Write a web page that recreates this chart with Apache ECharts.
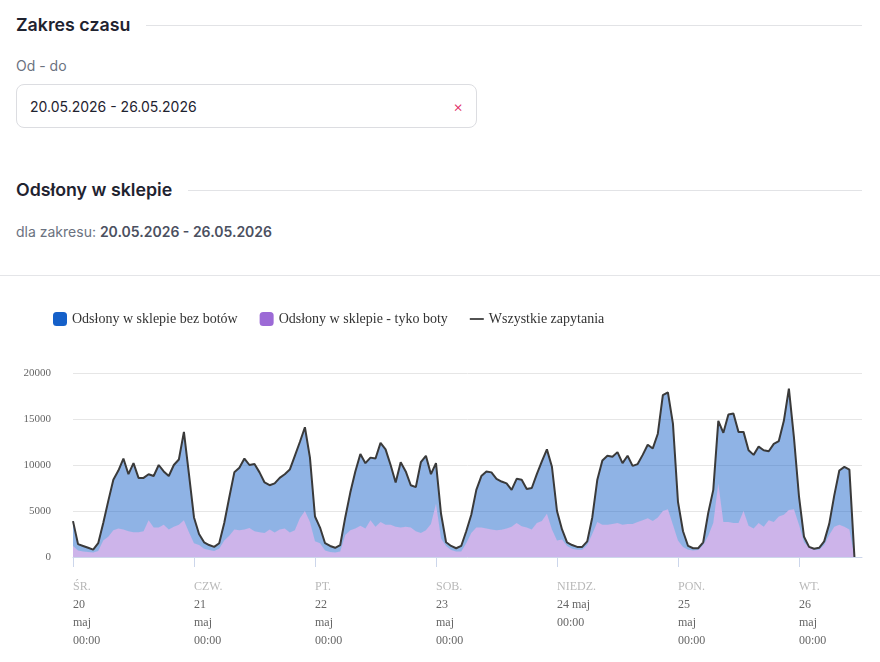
<!DOCTYPE html>
<html lang="pl">
<head>
<meta charset="utf-8">
<title>Odsłony w sklepie</title>
<script src="https://cdn.jsdelivr.net/npm/echarts@6/dist/echarts.min.js"></script>
<style>
  html, body { margin: 0; padding: 0; background: #fff; }
  body { width: 880px; height: 662px; position: relative; overflow: hidden; font-family: Inter, "Noto Sans", sans-serif; color: #1f2330; }
  .section-title { position: absolute; left: 16px; right: 18px; display: flex; align-items: center; font-size: 17.8px; font-weight: 600; line-height: 24px; }
  .section-title::after { content: ''; flex: 1; height: 1px; background: #e2e3e6; margin-left: 16px; }
  .label { position: absolute; left: 16px; font-size: 14px; line-height: 20px; color: #6b7280; }
  .label b { font-weight: 600; color: #4b5060; }
  .input { position: absolute; left: 16px; top: 84px; width: 461px; height: 44px; box-sizing: border-box; border: 1px solid #dcdde1; border-radius: 8px; padding: 0 13px; display: flex; align-items: center; justify-content: space-between; font-size: 14px; }
  .input .clear { color: #e0245e; font-size: 15px; font-weight: 300; margin-right: 0; }
  .divider { position: absolute; left: 0; right: 0; top: 275px; height: 1px; background: #e4e5e8; }
  #chart { position: absolute; left: 0; top: 276px; width: 880px; height: 386px; }
</style>
</head>
<body>
  <div class="section-title" style="top:13px">Zakres czasu</div>
  <div class="label" style="top:56px">Od - do</div>
  <div class="input"><span>20.05.2026 - 26.05.2026</span><span class="clear">×</span></div>
  <div class="section-title" style="top:178px">Odsłony w sklepie</div>
  <div class="label" style="top:222px">dla zakresu: <b>20.05.2026 - 26.05.2026</b></div>
  <div class="divider"></div>
  <div id="chart"></div>
<script>
// hourly values, starting 20 maj 00:00
const allRequests = [
  // 20 maj
  3900, 1400, 1200, 1000, 800, 1500, 3700, 6100, 8400, 9400, 10700, 9000,
  10200, 8600, 8600, 9000, 8800, 10000, 9300, 8800, 10000, 10600, 13600, 9000,
  // 21 maj
  4300, 2500, 1600, 1300, 1100, 1500, 3700, 6500, 9200, 9700, 10700, 10000,
  10100, 9200, 8100, 7800, 8000, 8600, 9000, 9500, 11000, 12500, 14100, 10800,
  // 22 maj
  4400, 3200, 1500, 1200, 1000, 1300, 4300, 7000, 9300, 11200, 10200, 10800,
  10700, 12400, 11700, 10000, 8100, 10300, 9300, 7800, 7600, 10300, 11000, 9000,
  // 23 maj
  10200, 4700, 1600, 1200, 950, 1200, 2800, 4600, 7300, 8800, 9300, 9200,
  8500, 8200, 8000, 7300, 8500, 8400, 7400, 7500, 9000, 10400, 11700, 9800,
  // 24 maj
  5000, 3000, 1600, 1300, 1100, 1100, 1700, 4300, 8400, 10500, 11000, 10900,
  11400, 10200, 11000, 9900, 10100, 11100, 12200, 11800, 13400, 17600, 17900, 14500,
  // 25 maj
  6000, 2800, 1200, 950, 950, 1600, 4800, 7300, 14800, 13500, 15500, 15600,
  13600, 13600, 11600, 11100, 12000, 11600, 11500, 12300, 12600, 14800, 18300, 13000,
  // 26 maj
  6600, 2200, 1100, 900, 1000, 1700, 3600, 6700, 9400, 9800, 9500, 0
];

const botViews = [
  1200, 700, 600, 550, 500, 650, 1800, 2200, 2900, 3100, 3000, 2800,
  2700, 2700, 2800, 4000, 3200, 3200, 3500, 3000, 3300, 3500, 4000, 2700,
  1500, 1300, 900, 750, 650, 900, 1800, 2300, 3000, 2900, 3000, 3150,
  2800, 2700, 2600, 3000, 2650, 3000, 3100, 2650, 2900, 4200, 5000, 3800,
  1700, 1500, 700, 550, 500, 600, 2400, 2900, 3100, 3400, 3100, 4000,
  3300, 3800, 3500, 3500, 3300, 3200, 3300, 3200, 2800, 2600, 2900, 3600,
  5800, 2000, 1200, 750, 600, 600, 1500, 2600, 3200, 3200, 3100, 3000,
  2900, 2950, 3100, 3300, 3700, 3350, 3200, 3000, 3700, 3900, 4700, 3000,
  1800, 1900, 1200, 900, 800, 800, 1300, 2500, 3800, 3500, 3500, 3600,
  3700, 3500, 3600, 3600, 3800, 4000, 4200, 3900, 4300, 5000, 5200, 3500,
  1800, 1100, 800, 700, 750, 1300, 2300, 3700, 8000, 3800, 3800, 3700,
  3700, 5000, 3400, 3100, 3700, 3300, 4000, 3800, 4400, 4600, 5100, 5200,
  3500, 1600, 1000, 800, 800, 1300, 2400, 3300, 3500, 3300, 3000, 0
];

const weekdayLabels = ['ŚR.', 'CZW.', 'PT.', 'SOB.', 'NIEDZ.', 'PON.', 'WT.'];
const dateLabels = ['20\nmaj', '21\nmaj', '22\nmaj', '23\nmaj', '24 maj', '25\nmaj', '26\nmaj'];
const yTicks = [0, 5000, 10000, 15000, 20000];

const dayTicks = weekdayLabels.map((d, i) => i * 24);
const toPoints = arr => arr.map((v, i) => [i, v]);

const chart = echarts.init(document.getElementById('chart'));

const serif = '"Liberation Serif", "Times New Roman", serif';

chart.setOption({
  animation: false,
  legend: {
    left: 48,
    top: 31,
    itemWidth: 14,
    itemHeight: 14,
    itemGap: 22,
    textStyle: { fontFamily: serif, fontSize: 14, color: '#333' },
    data: [
      { name: 'Odsłony w sklepie bez botów', icon: 'roundRect', itemStyle: { color: '#1560c9', opacity: 1 } },
      { name: 'Odsłony w sklepie - tyko boty', icon: 'roundRect', itemStyle: { color: '#9c6ad6', opacity: 1 } },
      { name: 'Wszystkie zapytania', icon: 'path://M0,0 L16,0 L16,2 L0,2 Z', itemStyle: { color: '#3a3a3a' } }
    ]
  },
  grid: { left: 73, right: 18, top: 97, bottom: 105 },
  xAxis: {
    type: 'value',
    min: 0,
    max: 156.5,
    axisLine: { lineStyle: { color: '#ccd6eb' } },
    axisTick: { customValues: dayTicks, length: 10, lineStyle: { color: '#ccd6eb' } },
    splitLine: { show: false },
    axisLabel: {
      customValues: dayTicks,
      align: 'left',
      margin: 21,
      formatter: function (value) {
        const d = Math.round(value / 24);
        const lines = dateLabels[d].split('\n').map(s => '{d|' + s + '}');
        return ['{w|' + weekdayLabels[d] + '}'].concat(lines, ['{d|00:00}']).join('\n');
      },
      rich: {
        w: { fontFamily: serif, fontSize: 12, color: '#b8b8b8', lineHeight: 18 },
        d: { fontFamily: serif, fontSize: 12, color: '#666', lineHeight: 18 }
      }
    }
  },
  yAxis: {
    type: 'value',
    min: yTicks[0],
    max: yTicks[yTicks.length - 1],
    interval: yTicks[1] - yTicks[0],
    axisLine: { show: false },
    axisTick: { show: false },
    axisLabel: { fontFamily: serif, fontSize: 11, color: '#666', margin: 22, formatter: v => String(v) },
    splitLine: { lineStyle: { color: '#e6e6e6' } }
  },
  series: [
    {
      // filled up to the total, the bot share is painted over it
      name: 'Odsłony w sklepie bez botów',
      type: 'line',
      data: toPoints(allRequests),
      symbol: 'none',
      color: '#1560c9',
      lineStyle: { width: 0 },
      areaStyle: { color: '#1560c9', opacity: 0.48 },
      z: 2
    },
    {
      name: 'Odsłony w sklepie - tyko boty',
      type: 'line',
      data: toPoints(botViews),
      symbol: 'none',
      color: '#9c6ad6',
      lineStyle: { width: 0 },
      areaStyle: { color: '#cdb4ea', opacity: 1 },
      z: 3
    },
    {
      name: 'Wszystkie zapytania',
      type: 'line',
      data: toPoints(allRequests),
      symbol: 'none',
      color: '#3a3a3a',
      lineStyle: { width: 2, color: '#3a3a3a' },
      z: 5
    }
  ]
});
</script>
</body>
</html>
